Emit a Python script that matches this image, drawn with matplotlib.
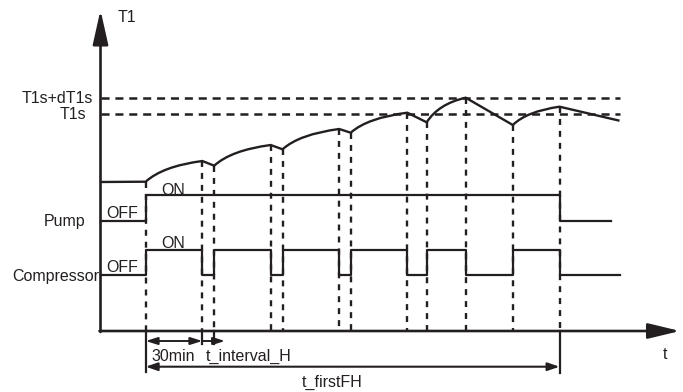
import matplotlib
matplotlib.use("Agg")
import matplotlib.pyplot as plt
from matplotlib.path import Path
from matplotlib.patches import PathPatch

plt.rcParams['font.family'] = ['Liberation Sans', 'DejaVu Sans']
plt.rcParams['lines.scale_dashes'] = False

# ---------------- data (diagram units: x = time, y = level, y grows downward) -------------
events = [145.7, 202.3, 214.2, 270.7, 282.5, 339.2, 350.7, 407.3, 426.7, 465.7, 512.8, 559.5]
t1_values = [181.7, 161.0, 165.7, 145.0, 149.3, 129.0, 132.7, 112.7, 122.3, 97.7, 125.0, 106.7]
t1_start = (100.5, 182.0)
t1_end = (619.5, 120.7)
t1s_level = 114.0
t1s_dt_level = 98.3

pump_levels = {'OFF': 220.7, 'ON': 195.0}
pump_times = [100.5, 145.7, 559.5, 611.0]
pump_states = ['OFF', 'ON', 'OFF', 'OFF']

comp_levels = {'OFF': 275.0, 'ON': 250.0}
comp_times = [100.5] + events + [619.5]
comp_states = ['OFF', 'ON', 'OFF', 'ON', 'OFF', 'ON', 'OFF', 'ON', 'OFF', 'ON', 'OFF', 'ON', 'OFF', 'OFF']

axis_x0, axis_y0 = 100.5, 331.0
C = '#231f20'

fig = plt.figure(figsize=(6.83, 3.92), dpi=100)
ax = fig.add_axes([0, 0, 1, 1])
ax.set_xlim(0, 683)
ax.set_ylim(392, 0)
ax.axis('off')

# axes with arrows
ax.annotate('', xy=(axis_x0, 10), xytext=(axis_x0, axis_y0 + 1),
            arrowprops=dict(arrowstyle='-|>,head_length=21,head_width=4.7', mutation_scale=1,
                            lw=1.9, color=C, shrinkA=0, shrinkB=0))
ax.annotate('', xy=(680, axis_y0), xytext=(axis_x0 - 1, axis_y0),
            arrowprops=dict(arrowstyle='-|>,head_length=19.5,head_width=4.7', mutation_scale=1,
                            lw=1.9, color=C, shrinkA=0, shrinkB=0))

# horizontal dashed thresholds
for lvl in (t1s_dt_level, t1s_level):
    ax.plot([axis_x0, t1_end[0]], [lvl, lvl], color=C, lw=1.8, dashes=(5.8, 4.2))

# T1 curve: flat, then concave rises (compressor ON) and straight falls (OFF)
verts = [t1_start, (events[0], t1_values[0])]
codes = [Path.MOVETO, Path.LINETO]
for i in range(len(events) - 1):
    x0, y0 = events[i], t1_values[i]
    x1, y1 = events[i + 1], t1_values[i + 1]
    if y1 < y0:  # rising temperature
        ctrl = (x0 + 0.3 * (x1 - x0), y0 + 0.75 * (y1 - y0))
        verts += [ctrl, (x1, y1)]
        codes += [Path.CURVE3, Path.CURVE3]
    else:
        verts += [(x1, y1)]
        codes += [Path.LINETO]
verts.append(t1_end)
codes.append(Path.LINETO)
ax.add_patch(PathPatch(Path(verts, codes), fill=False, lw=1.7, edgecolor=C, capstyle='butt', joinstyle='miter'))

# pump and compressor step lines
ax.step(pump_times, [pump_levels[s] for s in pump_states], where='post', color=C, lw=1.6)
ax.step(comp_times, [comp_levels[s] for s in comp_states], where='post', color=C, lw=1.6)

# vertical dashed event lines
for x, y in zip(events, t1_values):
    ax.plot([x, x], [y, axis_y0], color=C, lw=1.7, dashes=(4.3, 4.3))

# solid extension ticks below the time axis
ax.plot([events[0], events[0]], [axis_y0, 372], color=C, lw=1.6)
ax.plot([events[-1], events[-1]], [axis_y0, 373], color=C, lw=1.6)
for x in (events[1], events[2]):
    ax.plot([x, x], [axis_y0, 343.5], color=C, lw=1.6)

# dimension arrows
ax.annotate('', xy=(events[1], 341), xytext=(events[0], 341),
            arrowprops=dict(arrowstyle='<|-|>,head_length=7,head_width=2.2', mutation_scale=1,
                            lw=1.4, color=C, shrinkA=0, shrinkB=0))
ax.annotate('', xy=(225, 341), xytext=(events[1], 341),
            arrowprops=dict(arrowstyle='-|>,head_length=7,head_width=2.2', mutation_scale=1,
                            lw=1.4, color=C, shrinkA=0, shrinkB=0))
ax.annotate('', xy=(events[-1], 366.7), xytext=(events[0], 366.7),
            arrowprops=dict(arrowstyle='<|-|>,head_length=7,head_width=2.4', mutation_scale=1,
                            lw=1.5, color=C, shrinkA=0, shrinkB=0))

fs = 11.5
kw = dict(color=C, fontsize=fs, va='baseline')
ax.text(118, 21.7, 'T1', ha='left', **kw)
ax.text(93, 102.8, 'T1s+dT1s', ha='right', **kw)
ax.text(86.5, 119.2, 'T1s', ha='right', **kw)
ax.text(85.5, 226, 'Pump', ha='right', **kw)
ax.text(106.5, 217.5, 'OFF', ha='left', **kw)
ax.text(161, 194.5, 'ON', ha='left', **kw)
ax.text(99.5, 280.5, 'Compressor', ha='right', **kw)
ax.text(106.5, 272.5, 'OFF', ha='left', **kw)
ax.text(161, 248, 'ON', ha='left', **kw)
ax.text(151.5, 361, '30min', ha='left', **kw)
ax.text(205.5, 361, 't_interval_H', ha='left', **kw)
ax.text(332, 387, 't_firstFH', ha='center', **kw)
ax.text(665, 359, 't', ha='center', **kw)

fig.savefig('out.png', dpi=100)
